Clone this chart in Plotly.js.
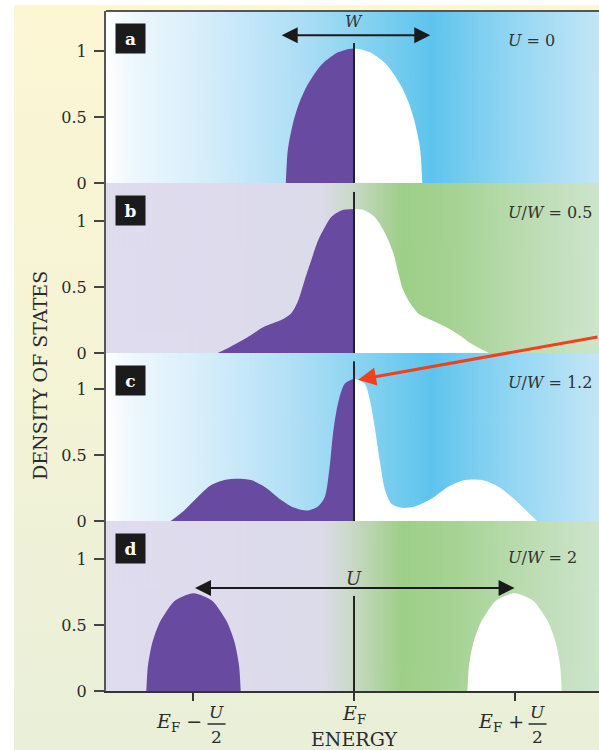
<!DOCTYPE html>
<html>
<head>
<meta charset="utf-8">
<script src="https://cdn.plot.ly/plotly-3.0.1.min.js"></script>
<style>
  html, body { margin: 0; padding: 0; background: #ffffff; }
  #wrap { position: relative; width: 599px; height: 750px; overflow: hidden; }
  #bg { position: absolute; left: 14px; top: 5px; right: 0; bottom: 0;
        background: linear-gradient(180deg, #fcf6d3 0%, #f5f4d6 45%, #e9efd8 100%); }
  #chart { position: absolute; left: 0; top: 0; width: 599px; height: 750px; }
</style>
</head>
<body>
<div id="wrap"><div id="bg"></div><div id="chart"></div></div>
<script>
// Energy axis: E_F at 0, the Hubbard sub-band centres E_F -/+ U/2 at -1 and +1
const energyTicks = [-1, 0, 1];
const dosTicks = [0, 0.5, 1];
const dosTickText = ['0', '0.5', '1'];
const panelLetters = ['a', 'b', 'c', 'd'];
const ratioLabels = ['<i>U</i> = 0', '<i>U</i>/<i>W</i> = 0.5', '<i>U</i>/<i>W</i> = 1.2', '<i>U</i>/<i>W</i> = 2'];

// (a) U = 0 : half-filled band
const aOccX = [-0.425, -0.415, -0.405, -0.39, -0.37, -0.34, -0.30, -0.25, -0.20, -0.15, -0.10, -0.05, 0];
const aOccY = [0, 0.22, 0.31, 0.40, 0.50, 0.61, 0.72, 0.82, 0.90, 0.95, 0.99, 1.01, 1.02];
const aEmpX = [0, 0.05, 0.10, 0.15, 0.20, 0.25, 0.30, 0.34, 0.37, 0.39, 0.405, 0.415, 0.425];
const aEmpY = [1.02, 1.01, 0.99, 0.95, 0.90, 0.82, 0.72, 0.61, 0.50, 0.40, 0.31, 0.22, 0];

// (b) U/W = 0.5
const bOccX = [-0.85, -0.767, -0.663, -0.558, -0.454, -0.392, -0.35, -0.308, -0.267, -0.225, -0.183, -0.142, -0.079, 0];
const bOccY = [0, 0.05, 0.12, 0.20, 0.25, 0.30, 0.39, 0.55, 0.70, 0.85, 0.95, 1.03, 1.08, 1.09];
const bEmpX = [0, 0.067, 0.129, 0.192, 0.244, 0.275, 0.306, 0.348, 0.40, 0.481, 0.567, 0.65, 0.731, 0.84];
const bEmpY = [1.09, 1.08, 1.03, 0.91, 0.76, 0.61, 0.48, 0.38, 0.30, 0.25, 0.20, 0.14, 0.07, 0];

// (c) U/W = 1.2 : quasiparticle peak plus incipient Hubbard bands
const cOccX = [-1.142, -1.058, -0.975, -0.892, -0.808, -0.725, -0.642, -0.558, -0.454, -0.371, -0.288, -0.225, -0.183, -0.152, -0.131, -0.10, -0.058, 0];
const cOccY = [0, 0.08, 0.18, 0.27, 0.31, 0.32, 0.31, 0.26, 0.16, 0.10, 0.08, 0.11, 0.18, 0.41, 0.66, 0.89, 1.04, 1.08];
const cEmpX = [0, 0.067, 0.098, 0.129, 0.16, 0.192, 0.233, 0.296, 0.379, 0.483, 0.588, 0.692, 0.796, 0.90, 1.004, 1.088, 1.14];
const cEmpY = [1.08, 1.04, 0.92, 0.71, 0.46, 0.24, 0.13, 0.10, 0.11, 0.17, 0.26, 0.31, 0.31, 0.26, 0.16, 0.06, 0];

// (d) U/W = 2 : lower and upper Hubbard bands
const dOccX = [-1.294, -1.285, -1.275, -1.26, -1.24, -1.21, -1.17, -1.12, -1.06, -1.0, -0.94, -0.88, -0.83, -0.79, -0.76, -0.74, -0.725, -0.715, -0.706];
const dOccY = [0, 0.18, 0.26, 0.35, 0.43, 0.52, 0.60, 0.68, 0.72, 0.74, 0.72, 0.68, 0.60, 0.52, 0.43, 0.35, 0.26, 0.18, 0];
const dEmpX = [0.706, 0.715, 0.725, 0.74, 0.76, 0.79, 0.83, 0.88, 0.94, 1.0, 1.06, 1.12, 1.17, 1.21, 1.24, 1.26, 1.275, 1.285, 1.294];
const dEmpY = [0, 0.18, 0.26, 0.35, 0.43, 0.52, 0.60, 0.68, 0.72, 0.74, 0.72, 0.68, 0.60, 0.52, 0.43, 0.35, 0.26, 0.18, 0];

// Height of the Fermi-level marker in each panel
const fermiTop = [1.06, 1.22, 1.21, 0.72];
// Band width W drawn in (a), and the U arrow in (d) spanning the two band centres
const bandEdges = [-0.46, 0.475];
const arrowLevels = [1.12, 0.78];

const occupied = [[aOccX, aOccY], [bOccX, bOccY], [cOccX, cOccY], [dOccX, dOccY]];
const empty = [[aEmpX, aEmpY], [bEmpX, bEmpY], [cEmpX, cEmpY], [dEmpX, dEmpY]];

const PURPLE = '#684aa0';
const INK = '#2b2b2b';
const SERIF = 'DejaVu Serif, serif';

// Panel layout (top-to-bottom a, b, c, d), heights in px of a 680-px plot area
const panelPx = [172, 170, 168, 170];
const pxPerUnit = 132;
const yIds = ['y', 'y2', 'y3', 'y4'];
const axisNames = ['yaxis', 'yaxis2', 'yaxis3', 'yaxis4'];

const traces = [];
const layout = {
  width: 599, height: 750,
  margin: { l: 106, r: 0, t: 11, b: 59 },
  paper_bgcolor: 'rgba(0,0,0,0)',
  plot_bgcolor: 'rgba(0,0,0,0)',
  showlegend: false,
  font: { family: SERIF, color: INK },
  xaxis: {
    domain: [0, 1], range: [-1.545, 1.526], anchor: 'y4',
    tickvals: energyTicks, showticklabels: false,
    ticks: 'outside', ticklen: 8, tickwidth: 2, tickcolor: '#333',
    showline: true, linecolor: '#333', linewidth: 2,
    showgrid: false, zeroline: false, fixedrange: true
  },
  annotations: [], shapes: [], images: []
};

function gradientURL(stops) {
  const c = document.createElement('canvas');
  c.width = 600; c.height = 4;
  const g = c.getContext('2d');
  const lg = g.createLinearGradient(0, 0, 600, 0);
  stops.forEach(s => lg.addColorStop(s[0], s[1]));
  g.fillStyle = lg; g.fillRect(0, 0, 600, 4);
  return c.toDataURL();
}
const blueStops = [[0, '#ffffff'], [0.05, '#eef8fd'], [0.2, '#d6eefa'], [0.4, '#acdef5'],
                   [0.55, '#7fd0f0'], [0.66, '#5ec4ee'], [0.8, '#8cd4f2'], [1, '#c4e6f6']];
const greenStops = [[0, '#dfdcef'], [0.44, '#dcdbea'], [0.5, '#c9d9c6'], [0.6, '#9ecf88'],
                    [0.7, '#a5d393'], [0.85, '#bbdcb1'], [1, '#cde5cc']];
const panelBg = [gradientURL(blueStops), gradientURL(greenStops), gradientURL(blueStops), gradientURL(greenStops)];

let topPx = 0;
for (let i = 0; i < 4; i++) {
  const h = panelPx[i];
  const domTop = 1 - topPx / 680;
  const domBot = 1 - (topPx + h) / 680;
  topPx += h;
  layout[axisNames[i]] = {
    domain: [domBot, domTop], range: [0, h / pxPerUnit], anchor: 'x',
    tickvals: dosTicks, ticktext: dosTickText,
    ticks: 'outside', ticklen: 10, tickwidth: 2, tickcolor: '#444',
    ticklabelstandoff: 4,
    tickfont: { family: SERIF, size: 16, color: INK },
    showline: true, linecolor: '#555', linewidth: 2,
    showgrid: false, zeroline: false, fixedrange: true
  };
  layout.images.push({
    source: panelBg[i], xref: 'paper', yref: 'paper',
    x: 0, y: domTop, sizex: 1, sizey: domTop - domBot,
    xanchor: 'left', yanchor: 'top', sizing: 'stretch', layer: 'below'
  });

  // occupied states (below E_F) and empty states (above E_F)
  traces.push({
    x: occupied[i][0], y: occupied[i][1], xaxis: 'x', yaxis: yIds[i],
    type: 'scatter', mode: 'lines', line: { width: 0, shape: 'spline', smoothing: 0.8 },
    fill: 'tozeroy', fillcolor: PURPLE, hoverinfo: 'skip'
  });
  traces.push({
    x: empty[i][0], y: empty[i][1], xaxis: 'x', yaxis: yIds[i],
    type: 'scatter', mode: 'lines', line: { width: 0, shape: 'spline', smoothing: 0.8 },
    fill: 'tozeroy', fillcolor: '#ffffff', hoverinfo: 'skip'
  });
  // Fermi level
  traces.push({
    x: [energyTicks[1], energyTicks[1]], y: [0, fermiTop[i]], xaxis: 'x', yaxis: yIds[i],
    type: 'scatter', mode: 'lines', line: { color: '#222', width: 2 }, hoverinfo: 'skip'
  });

  // panel letter
  layout.annotations.push({
    xref: 'paper', x: 9 / 493, xanchor: 'left',
    yref: yIds[i] + ' domain', y: 1, yanchor: 'top', yshift: -12,
    text: '<b>' + panelLetters[i] + '</b>', showarrow: false,
    bgcolor: '#1b1b1b', width: 29, height: 29, borderpad: 0,
    font: { family: SERIF, size: 17, color: '#ffffff' }
  });
}

// Interaction-strength labels
const ratioY = [1.083, 1.068, 1.053, 1.015];
ratioLabels.forEach((t, i) => layout.annotations.push({
  xref: 'x', x: 0.947, xanchor: 'left', yref: yIds[i], y: ratioY[i], yanchor: 'middle',
  text: t, showarrow: false, font: { family: SERIF, size: 16, color: '#333' }
}));

// Band width W in (a)
layout.annotations.push({
  xref: 'x', yref: 'y', x: bandEdges[1], y: arrowLevels[0],
  axref: 'x', ayref: 'y', ax: bandEdges[0], ay: arrowLevels[0],
  text: '', showarrow: true, arrowside: 'end+start', arrowhead: 2, startarrowhead: 2,
  arrowsize: 1.6, startarrowsize: 1.6, arrowwidth: 2, arrowcolor: '#1a1a1a', standoff: 0, startstandoff: 0
});
layout.annotations.push({
  xref: 'x', yref: 'y', x: 0, y: 1.22, text: '<i>W</i>', showarrow: false,
  font: { family: SERIF, size: 16, color: '#333' }
});

// Hubbard splitting U in (d)
layout.annotations.push({
  xref: 'x', yref: 'y4', x: energyTicks[2], y: arrowLevels[1],
  axref: 'x', ayref: 'y4', ax: energyTicks[0], ay: arrowLevels[1],
  text: '', showarrow: true, arrowside: 'end+start', arrowhead: 2, startarrowhead: 2,
  arrowsize: 1.6, startarrowsize: 1.6, arrowwidth: 2, arrowcolor: '#1a1a1a', standoff: 0, startstandoff: 0
});
layout.annotations.push({
  xref: 'x', yref: 'y4', x: 0, y: 0.856, text: '<i>U</i>', showarrow: false,
  font: { family: SERIF, size: 18, color: '#333' }
});

// Pointer to the quasiparticle peak in (c)
layout.annotations.push({
  xref: 'x', yref: 'y3', x: 0.025, y: cOccY[cOccY.length - 1] - 0.01,
  ax: 246, ay: -43, text: '', showarrow: true,
  arrowhead: 2, arrowsize: 1.2, arrowwidth: 3, arrowcolor: '#f0401c', standoff: 0
});

// Energy-axis labels
const tickFont = { family: SERIF, size: 19, color: INK };
const fracFont = { family: SERIF, size: 17, color: INK };
layout.annotations.push({
  xref: 'x', x: energyTicks[1], yref: 'paper', y: 0, yanchor: 'middle', yshift: -23,
  text: '<i>E</i><sub>F</sub>', showarrow: false, font: tickFont
});
[[energyTicks[0], '−'], [energyTicks[2], '+']].forEach(([tv, sign]) => {
  layout.annotations.push({
    xref: 'x', x: tv, xanchor: 'right', xshift: 11, yref: 'paper', y: 0, yanchor: 'middle', yshift: -31,
    text: '<i>E</i><sub>F</sub> ' + sign, showarrow: false, font: tickFont
  });
  layout.annotations.push({
    xref: 'x', x: tv, xshift: 23, yref: 'paper', y: 0, yanchor: 'middle', yshift: -21,
    text: '<i>U</i>', showarrow: false, font: fracFont
  });
  layout.annotations.push({
    xref: 'x', x: tv, xshift: 23, yref: 'paper', y: 0, yanchor: 'middle', yshift: -46,
    text: '2', showarrow: false, font: fracFont
  });
  layout.shapes.push({
    type: 'line', xref: 'x', xsizemode: 'pixel', xanchor: tv, x0: 14, x1: 32,
    yref: 'paper', ysizemode: 'pixel', yanchor: 0, y0: -33, y1: -33,
    line: { color: INK, width: 1.5 }
  });
});
layout.annotations.push({
  xref: 'x', x: energyTicks[1], yref: 'paper', y: 0, yanchor: 'middle', yshift: -48,
  text: 'ENERGY', showarrow: false, font: { family: SERIF, size: 19, color: INK }
});
layout.annotations.push({
  xref: 'paper', x: (40 - 106) / 493, xanchor: 'center', yref: 'paper', y: (691 - 376) / 680, yanchor: 'middle',
  text: 'DENSITY OF STATES', textangle: -90, showarrow: false,
  font: { family: SERIF, size: 19, color: INK }
});

// frame top edge
layout.shapes.push({ type: 'line', xref: 'paper', yref: 'paper', x0: 0, x1: 1, y0: 1, y1: 1,
                     line: { color: '#555', width: 2 } });

Plotly.newPlot('chart', traces, layout, { displayModeBar: false, staticPlot: true });
</script>
</body>
</html>
